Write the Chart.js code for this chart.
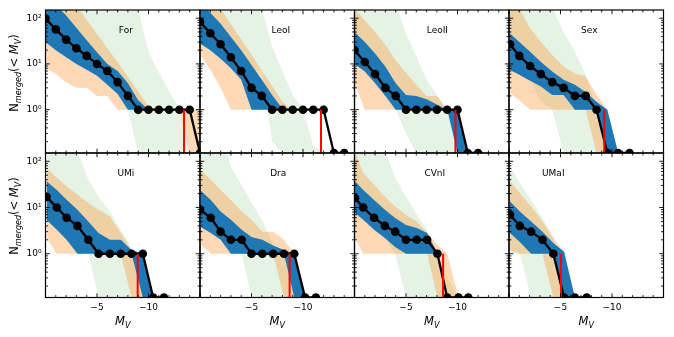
<!DOCTYPE html>
<html>
<head>
<meta charset="utf-8">
<script src="https://cdn.jsdelivr.net/npm/chart.js@4.4.1/dist/chart.umd.min.js"></script>
<style>
html,body{margin:0;padding:0;background:#fff;}
#fig{position:relative;width:674px;height:337px;overflow:hidden;background:#fff;font-family:"DejaVu Sans",sans-serif;color:#000;}
#fig canvas{position:absolute;left:0;top:0;}
.txt{position:absolute;white-space:nowrap;line-height:1;transform:translate(-50%,-50%);}
.name{font-size:9px;}
.ytitle{font-size:11.5px;transform:translate(-50%,-50%) rotate(-90deg);}
.xtitle{font-size:11.5px;}
.txt sub{font-size:70%;vertical-align:-0.3em;line-height:0;}
</style>
</head>
<body>
<div id="fig"></div>
<script>
// ---------------- data ----------------
const galaxyNames = ['For','LeoI','LeoII','Sex','UMi','Dra','CVnI','UMaI'];
const observedMV = [-13.45, -11.75, -9.8, -9.25, -8.95, -8.7, -8.6, -5.05];

// Fornax
const xFor       = [0,-1,-2,-3,-4,-5,-6,-7,-8,-9,-10,-11,-12,-13,-14,-15];
const nFor       = [98,57,34,22,15,10,7,4,2,1,1,1,1,1,1,0];
const blueLoFor  = [30,20,14,10,7.5,5.5,3.5,2.2,1,1,1,1,1,1,1,1];
const blueHiFor  = [300,200,114,62,33,18,10,7,3.8,1.6,1,1,1,1,1,1];
const orangeLoFor= [8,6,4,3,3,2,2,1,1,1,1,1,1,1,0,0];
const orangeHiFor= [400,300,250,186,92,45,22,11,5.2,2.5,1.2,1,1,1,1,1];
const greenLoFor = [60,40,25,15,10,6,4,2.5,1,0,0,0,0,0,0,0];
const greenHiFor = [1000,1000,1000,1000,900,700,500,350,250,160,18,6.5,2.5,1.05,0,0];

// Leo I
const xLeoI       = [0,-1,-2,-3,-4,-5,-6,-7,-8,-9,-10,-11,-12,-13,-14];
const nLeoI       = [83,47,27,14,7,3,2,1,1,1,1,1,1,0,0];
const blueLoLeoI  = [28,20,13,8,4.5,1,1,1,1,1,1,1,1,1,1];
const blueHiLeoI  = [250,131,76,39,20,9.5,4.5,2.1,1.05,1,1,1,1,1,1];
const orangeLoLeoI= [16,7.5,3,1,1,1,1,1,1,1,1,1,1,1,1];
const orangeHiLeoI= [400,250,160,75,34,16,7.1,3.3,1.5,1,1,1,1,1,1];
const greenLoLeoI = [40,25,15,10,8,7,7,0.2,0,0,0,0,0,0,0];
const greenHiLeoI = [1000,1000,1000,800,500,300,160,24,6.8,2.1,1,0.16,0,0,0];

// Leo II
const xLeoII       = [0,-1,-2,-3,-4,-5,-6,-7,-8,-9,-10,-11,-12];
const nLeoII       = [20,11,6,3,2,1,1,1,1,1,1,0,0];
const blueLoLeoII  = [10,6.8,3.8,2,1,1,1,1,1,1,0,0,0];
const blueHiLeoII  = [50,30,17,8.7,3.8,2.1,2,1.7,1.3,1,1,0,0];
const orangeLoLeoII= [4,1,1,1,1,1,1,1,1,1,1,1,1];
const orangeHiLeoII= [160,90,50,26,12,6.3,3.5,2,2,1,1,1,1];
const greenLoLeoII = [12,8,5,2.5,1,0.3,0,0,0,0,0,0,0];
const greenHiLeoII = [1000,1000,1000,800,200,47,14.5,4.5,2.1,1,0,0,0];

// Sextans
const xSex       = [-0.1,-1.0,-2.05,-3.1,-4.2,-5.3,-6.4,-7.45,-8.5,-9.55,-10.6,-11.7];
const nSex       = [27,15,9,6,4,3,2,2,1,0,0,0];
const blueLoSex  = [7.4,5.8,4.3,3.2,2.1,2.1,1,1,1,0,0,0];
const blueHiSex  = [46,30,18.5,11,6.8,4.5,3.5,2.4,1.5,1,0,0];
const orangeLoSex= [2.3,1.6,1,1,1,1,1,1,0,0,0,0];
const orangeHiSex= [200,160,60,30,15.7,8.7,6.2,5.3,2.1,1,0,0];
const greenLoSex = [7.4,5.8,4.3,1.5,1,0,0,0,0,0,0,0];
const greenHiSex = [1000,1000,1000,500,170,50,18.5,5.8,1,0,0,0];

// Ursa Minor
const xUMi       = [-0.1,-1.1,-2.05,-3.1,-4.15,-5.15,-6.25,-7.3,-8.35,-9.45,-10.45,-11.5];
const nUMi       = [17,10,6,4,2,1,1,1,1,1,0,0];
const blueLoUMi  = [5.4,3.3,2,1,1,1,1,1,1,0,0,0];
const blueHiUMi  = [37,24,14.7,8.9,5,2.8,2,2,1.2,1,0,0];
const orangeLoUMi= [2.2,1,1,1,1,1,1,1,0,0,0,0];
const orangeHiUMi= [72,44,29,19,12.5,8.9,6.4,2.8,1.2,1,0,0];
const greenLoUMi = [5.4,3.3,2,1.5,1,0,0,0,0,0,0,0];
const greenHiUMi = [1000,1000,500,170,40,17,8.2,3.3,1.4,0,0,0];

// Draco
const xDra       = [0,-1.05,-2,-3,-4.05,-5,-6.05,-7.1,-8.15,-9.15,-10.2,-11.25];
const nDra       = [9,6,3,2,2,1,1,1,1,1,0,0];
const blueLoDra  = [3.9,2.8,2,1,1,1,1,1,1,0,0,0];
const blueHiDra  = [24,14.6,8.2,5.4,3.3,2.3,2,1.5,1.2,1,0,0];
const orangeLoDra= [1.6,1,1,1,1,1,1,1,0,0,0,0];
const orangeHiDra= [66,40,24,14.6,8.2,5.4,3,3,2,1,0,0];
const greenLoDra = [3.9,2.8,2,1.2,1,0,0,0,0,0,0,0];
const greenHiDra = [1000,1000,500,75,30,12.9,5.2,1.6,1,0,0,0];

// Canes Venatici I
const xCVnI       = [-0.05,-0.85,-1.9,-2.95,-3.95,-5,-6.05,-7.05,-8.05,-9,-10.1,-11.05];
const nCVnI       = [16,10,6,4,3,2,2,2,1,0,0,0];
const blueLoCVnI  = [7.6,5.4,3.3,2.2,1.4,1,1,1,1,1,1,1];
const blueHiCVnI  = [37,24,14.6,8.9,5.9,4.2,3.6,2.8,1,1,1,1];
const orangeLoCVnI= [2.2,1,1,1,1,1,1,1,0,0,0,0];
const orangeHiCVnI= [160,56,31,17,10.5,6.9,5,2.8,1.55,1,0,0];
const greenLoCVnI = [7.6,5.4,3.3,2.2,1,0,0,0,0,0,0,0];
const greenHiCVnI = [1000,1000,500,180,44,17,6.9,3.3,1,0.3,0,0];

// Ursa Major I
const xUMaI       = [-0.1,-1.05,-2.15,-3.25,-4.3,-5.35,-6.4,-7.55];
const nUMaI       = [7,4,3,2,1,0,0,0];
const blueLoUMaI  = [2.8,1.8,1,1,1,0,0,0];
const blueHiUMaI  = [13.5,8.2,5,3,1.7,1.1,0,0];
const orangeLoUMaI= [1.2,1,1,1,0,0,0,0];
const orangeHiUMaI= [37,20.5,10.5,5,2.2,1.1,0,0];
const greenLoUMaI = [1,1,0,0,0,0,0,0];
const greenHiUMaI = [78,34,14.6,5.9,2.3,0,0,0];

// axis ticks
const xTickValues = [-5, -10];
const xTickLabels = ['\u22125', '\u221210'];
const yTickValues = [1, 10, 100];
const yTickLabels = ['10\u2070', '10\u00b9', '10\u00b2'];
const xMinorTicks = [0,-1,-2,-3,-4,-5,-6,-7,-8,-9,-10,-11,-12,-13,-14,-15];
const xMajorTicks = [0,-5,-10,-15];
const yMinorTicks = [0.2,0.3,0.4,0.5,0.6,0.7,0.8,0.9,2,3,4,5,6,7,8,9,20,30,40,50,60,70,80,90];

// ---------------- assembly ----------------
const panels = [
  {x:xFor,  n:nFor,  blue:[blueLoFor,blueHiFor],   orange:[orangeLoFor,orangeHiFor],   green:[greenLoFor,greenHiFor]},
  {x:xLeoI, n:nLeoI, blue:[blueLoLeoI,blueHiLeoI], orange:[orangeLoLeoI,orangeHiLeoI], green:[greenLoLeoI,greenHiLeoI]},
  {x:xLeoII,n:nLeoII,blue:[blueLoLeoII,blueHiLeoII],orange:[orangeLoLeoII,orangeHiLeoII],green:[greenLoLeoII,greenHiLeoII]},
  {x:xSex,  n:nSex,  blue:[blueLoSex,blueHiSex],   orange:[orangeLoSex,orangeHiSex],   green:[greenLoSex,greenHiSex]},
  {x:xUMi,  n:nUMi,  blue:[blueLoUMi,blueHiUMi],   orange:[orangeLoUMi,orangeHiUMi],   green:[greenLoUMi,greenHiUMi]},
  {x:xDra,  n:nDra,  blue:[blueLoDra,blueHiDra],   orange:[orangeLoDra,orangeHiDra],   green:[greenLoDra,greenHiDra]},
  {x:xCVnI, n:nCVnI, blue:[blueLoCVnI,blueHiCVnI], orange:[orangeLoCVnI,orangeHiCVnI], green:[greenLoCVnI,greenHiCVnI]},
  {x:xUMaI, n:nUMaI, blue:[blueLoUMaI,blueHiUMaI], orange:[orangeLoUMaI,orangeHiUMaI], green:[greenLoUMaI,greenHiUMaI]}
];

// layout (pixels) and styles
const LAYOUT = {left:45.5, top:10, panelW:154.5, rowH:[143,144.5], W:674, H:337, yAxisW:40, xAxisH:22,
                yTitleX:15, yTitleShift:-9, nameDy:19.5, xTitleY:322};
const Y_MIN = 0.113, Y_MAX = 151, X_MIN = -15, X_MAX = 0;
const NAME_AT_X = [-7.8,-7.85,-8.05,-7.8,-7.8,-7.6,-7.8,-4.3];
const C_GREEN = 'rgba(44,160,44,0.12)';
const C_ORANGE = 'rgba(255,127,14,0.3)';
const C_BLUE = 'rgb(31,119,180)';
const FONT = {family:'DejaVu Sans', size:9};

function floorZero(v){ return v <= 0 ? Y_MIN : v; }
function toPoints(xs, ys){ return xs.map((x,i) => ({x:x, y:floorZero(ys[i])})); }
function band(xs, lo, hi, color, order){
  return [
    {data:toPoints(xs, lo), borderWidth:0, borderColor:'transparent', pointRadius:0, fill:false, order:order},
    {data:toPoints(xs, hi), borderWidth:0, borderColor:'transparent', pointRadius:0, backgroundColor:color, fill:'-1', order:order}
  ];
}

const axesFrame = {
  id:'axesFrame',
  afterDraw(chart){
    const ctx = chart.ctx, a = chart.chartArea, xs = chart.scales.x, ys = chart.scales.y;
    ctx.save();
    ctx.strokeStyle = '#000';
    ctx.lineWidth = 0.9;
    ctx.beginPath();
    xMinorTicks.forEach(v => {
      const p = xs.getPixelForValue(v);
      const L = xMajorTicks.includes(v) ? 4.2 : 2.4;
      ctx.moveTo(p, a.bottom); ctx.lineTo(p, a.bottom - L);
      ctx.moveTo(p, a.top); ctx.lineTo(p, a.top + L);
    });
    yTickValues.concat(yMinorTicks).forEach(v => {
      const p = ys.getPixelForValue(v);
      if (p < a.top - 0.5 || p > a.bottom + 0.5) return;
      const L = yTickValues.includes(v) ? 4.2 : 2.4;
      ctx.moveTo(a.left, p); ctx.lineTo(a.left + L, p);
      ctx.moveTo(a.right, p); ctx.lineTo(a.right - L, p);
    });
    ctx.stroke();
    ctx.lineWidth = 1.2;
    ctx.strokeRect(a.left, a.top, a.right - a.left, a.bottom - a.top);
    ctx.restore();
  }
};

const fig = document.getElementById('fig');
panels.forEach((p, i) => {
  const col = i % 4, row = Math.floor(i / 4);
  const left = LAYOUT.left + col * LAYOUT.panelW;
  const top = row === 0 ? LAYOUT.top : LAYOUT.top + LAYOUT.rowH[0];
  const bottom = top + LAYOUT.rowH[row];
  const right = left + LAYOUT.panelW;

  const cv = document.createElement('canvas');
  cv.width = LAYOUT.W; cv.height = LAYOUT.H;
  cv.style.width = LAYOUT.W + 'px'; cv.style.height = LAYOUT.H + 'px';
  fig.appendChild(cv);

  const datasets = [
    ...band(p.x, p.green[0], p.green[1], C_GREEN, 6),
    ...band(p.x, p.orange[0], p.orange[1], C_ORANGE, 5),
    ...band(p.x, p.blue[0], p.blue[1], C_BLUE, 4),
    {data:toPoints(p.x, p.n), borderColor:'#000', borderWidth:2.3, pointRadius:4.3,
     pointBackgroundColor:'#000', pointBorderWidth:0, fill:false, order:1, clip:0},
    {data:[{x:observedMV[i], y:1}, {x:observedMV[i], y:Y_MIN}], borderColor:'#ff0000', borderWidth:2,
     pointRadius:0, fill:false, order:0, clip:0}
  ];

  const chart = new Chart(cv, {
    type:'line',
    data:{datasets:datasets},
    options:{
      responsive:false, animation:false, devicePixelRatio:1, events:[],
      layout:{padding:{left:left - LAYOUT.yAxisW, top:top, right:LAYOUT.W - right,
                       bottom:LAYOUT.H - bottom - LAYOUT.xAxisH}},
      plugins:{legend:{display:false}, tooltip:{enabled:false}, title:{display:false}},
      scales:{
        x:{type:'linear', reverse:true, min:X_MIN, max:X_MAX,
           grid:{display:false, drawTicks:false}, border:{display:false},
           afterBuildTicks: s => { s.ticks = xTickValues.map(v => ({value:v})); },
           afterFit: s => { s.height = LAYOUT.xAxisH; },
           ticks:{display: row === 1, autoSkip:false, maxRotation:0, minRotation:0, padding:5, color:'#000', font:FONT,
                  callback: v => xTickLabels[xTickValues.indexOf(v)]}},
        y:{type:'logarithmic', min:Y_MIN, max:Y_MAX,
           grid:{display:false, drawTicks:false}, border:{display:false},
           afterBuildTicks: s => { s.ticks = yTickValues.map(v => ({value:v})); },
           afterFit: s => { s.width = LAYOUT.yAxisW; },
           ticks:{display: col === 0, autoSkip:false, padding:4, color:'#000', font:FONT,
                  callback: v => yTickLabels[yTickValues.indexOf(v)]}}
      }
    },
    plugins:[axesFrame]
  });

  const nm = document.createElement('div');
  nm.className = 'txt name';
  nm.textContent = galaxyNames[i];
  nm.style.left = chart.scales.x.getPixelForValue(NAME_AT_X[i]) + 'px';
  nm.style.top = (top + LAYOUT.nameDy) + 'px';
  fig.appendChild(nm);

  if (col === 0) {
    const yt = document.createElement('div');
    yt.className = 'txt ytitle';
    yt.innerHTML = 'N<sub><i>merged</i></sub>(&lt; <i>M</i><sub><i>V</i></sub>)';
    yt.style.left = LAYOUT.yTitleX + 'px';
    yt.style.top = ((top + bottom) / 2 + LAYOUT.yTitleShift) + 'px';
    fig.appendChild(yt);
  }
  if (row === 1) {
    const xt = document.createElement('div');
    xt.className = 'txt xtitle';
    xt.innerHTML = '<i>M</i><sub><i>V</i></sub>';
    xt.style.left = ((left + right) / 2) + 'px';
    xt.style.top = LAYOUT.xTitleY + 'px';
    fig.appendChild(xt);
  }
});
</script>
</body>
</html>
